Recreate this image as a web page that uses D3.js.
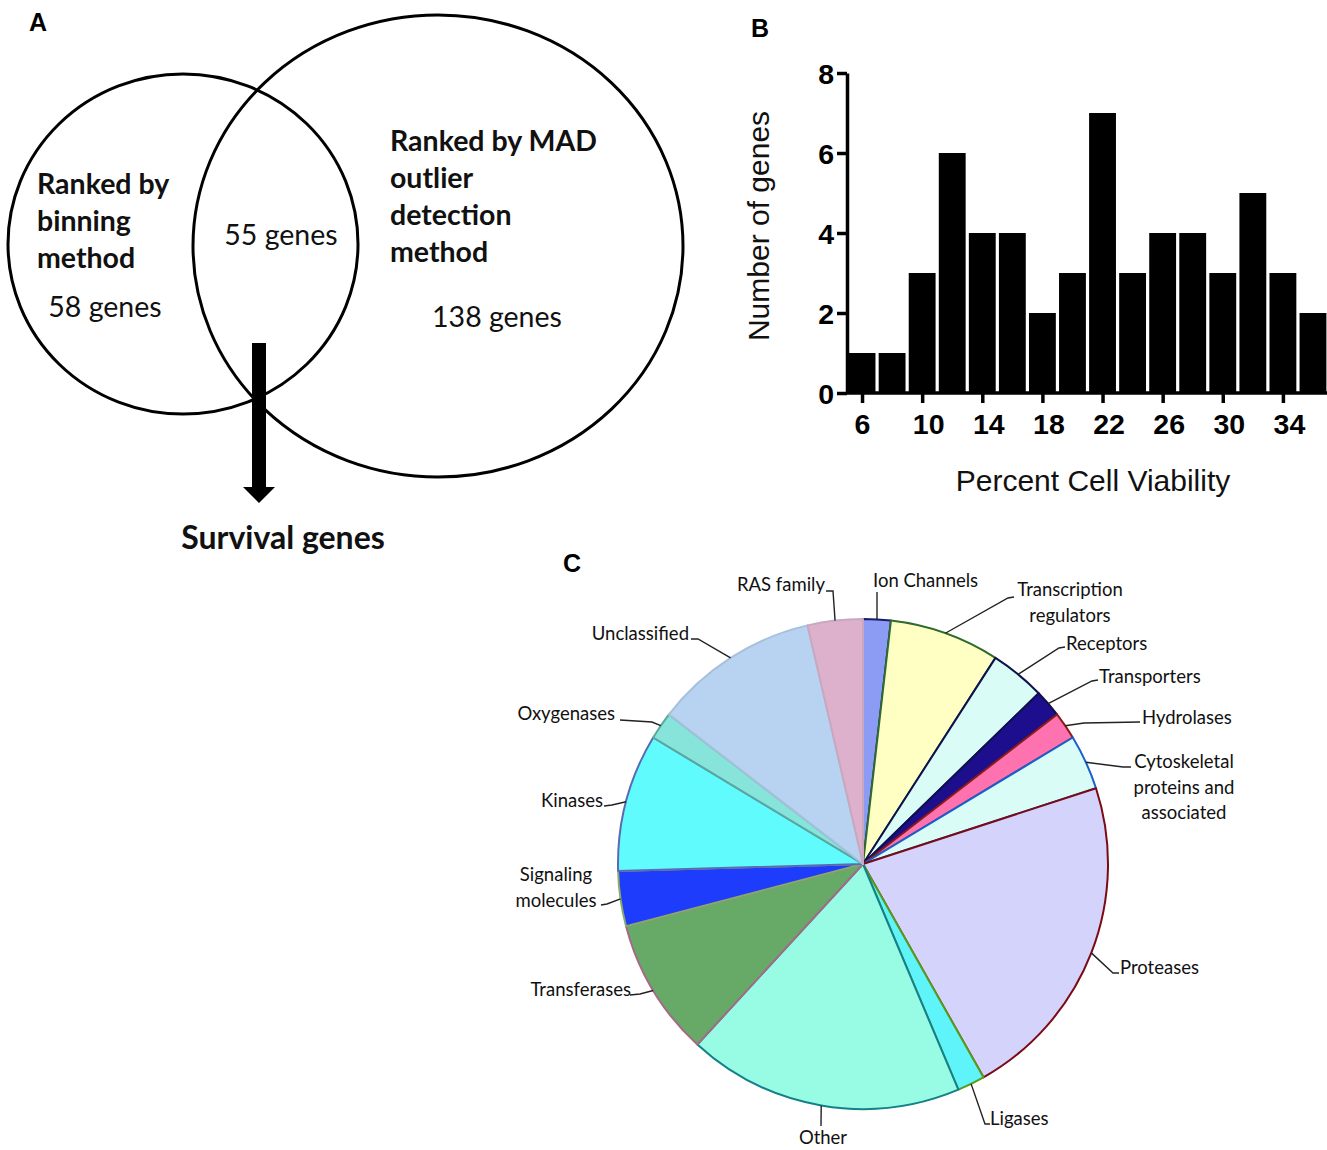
<!DOCTYPE html>
<html>
<head>
<meta charset="utf-8">
<script src="https://cdn.jsdelivr.net/npm/d3@7"></script>
<style>
  html, body { margin: 0; padding: 0; background: #fff; }
  svg { display: block; }
  .cal { font-family: Lato, "Open Sans", sans-serif; }
  .ari { font-family: "Liberation Sans", Arial, sans-serif; }
</style>
</head>
<body>
<div id="chart"></div>
<script>
// ---------------- DATA ----------------
// Panel A: Venn counts
const vennSets = ["Ranked by binning method", "Ranked by MAD outlier detection method"];
const vennCounts = [58, 55, 138]; // only left, overlap, only right

// Panel B: histogram
const viabilityBins = [6, 8, 10, 12, 14, 16, 18, 20, 22, 24, 26, 28, 30, 32, 34, 36];
const geneCounts = [1, 1, 3, 6, 4, 4, 2, 3, 7, 3, 4, 4, 3, 5, 3, 2];
const xTickValues = [6, 10, 14, 18, 22, 26, 30, 34];
const yTickValues = [0, 2, 4, 6, 8];

// Panel C: pie (clockwise from 12 o'clock)
const pieCategories = ["Ion Channels", "Transcription regulators", "Receptors", "Transporters",
  "Hydrolases", "Cytoskeletal proteins and associated", "Proteases", "Ligases", "Other",
  "Transferases", "Signaling molecules", "Kinases", "Oxygenases", "Unclassified", "RAS family"];
const pieValues = [1, 4, 2, 1, 1, 2, 12, 1, 10, 5, 2, 5, 1, 6, 2];
const pieFills = ["#8c9cf4", "#ffffc4", "#d9fdf6", "#1c0e8c", "#ff72b0", "#d9fdf6", "#d3d3fb",
  "#5ff4fa", "#98fbe4", "#67aa67", "#1d3cfb", "#60fcfd", "#86e4da", "#b8d3f1", "#ddb0cc"];
const pieStrokes = ["#1a1a6e", "#2e6b2e", "#101050", "#101050", "#8b1a1a", "#1a5fd0", "#7a0a14",
  "#5a9a1a", "#14808a", "#a46a86", "#8aa86a", "#5a6ab4", "#5aa8a0", "#a8c0dc", "#c8a8c0"];

// ---------------- LAYOUT ----------------
const W = 1327, H = 1150;
const svg = d3.select("#chart").append("svg").attr("width", W).attr("height", H);
svg.append("rect").attr("width", W).attr("height", H).attr("fill", "#fff");

// Panel letters
const letters = [["A", 38, 31], ["B", 760, 37], ["C", 572, 572]];
svg.selectAll("text.letter").data(letters).join("text")
  .attr("class", "ari letter").attr("x", d => d[1]).attr("y", d => d[2])
  .attr("text-anchor", "middle").attr("font-size", 25).attr("font-weight", "bold")
  .text(d => d[0]);

// ---------------- PANEL A ----------------
const gA = svg.append("g");
gA.append("ellipse").attr("cx", 183).attr("cy", 244).attr("rx", 175).attr("ry", 170)
  .attr("fill", "none").attr("stroke", "#000").attr("stroke-width", 3);
gA.append("ellipse").attr("cx", 438).attr("cy", 246).attr("rx", 245).attr("ry", 231)
  .attr("fill", "none").attr("stroke", "#000").attr("stroke-width", 3);

function multiline(g, lines, x, y, lh, opts) {
  const t = g.append("text").attr("class", "cal").attr("x", x).attr("y", y)
    .attr("font-size", opts.size).attr("font-weight", opts.weight || "normal")
    .attr("text-anchor", opts.anchor || "start").attr("fill", "#111");
  lines.forEach((l, i) => t.append("tspan").attr("x", x).attr("dy", i === 0 ? 0 : lh).text(l));
  return t;
}
multiline(gA, ["Ranked by", "binning", "method"], 37, 194, 37, { size: 28.5, weight: "bold" });
multiline(gA, ["Ranked by MAD", "outlier", "detection", "method"], 390, 151, 37, { size: 28.5, weight: "bold" });
multiline(gA, [vennCounts[0] + " genes"], 105, 317, 0, { size: 28.5, anchor: "middle" });
multiline(gA, [vennCounts[1] + " genes"], 281, 245, 0, { size: 28.5, anchor: "middle" });
multiline(gA, [vennCounts[2] + " genes"], 497, 327, 0, { size: 28.5, anchor: "middle" });

// arrow
gA.append("rect").attr("x", 252).attr("y", 343).attr("width", 14).attr("height", 146).attr("fill", "#000");
gA.append("path").attr("d", "M243,487 L275,487 L259,503 Z").attr("fill", "#000");
multiline(gA, ["Survival genes"], 283, 549, 0, { size: 32, weight: "bold", anchor: "middle" });

// ---------------- PANEL B ----------------
const gB = svg.append("g");
const x = d3.scaleLinear().domain([5, 37]).range([847, 1328]);
const y = d3.scaleLinear().domain([0, 8]).range([393, 73]);

gB.selectAll("rect.bar").data(viabilityBins).join("rect")
  .attr("class", "bar")
  .attr("x", (d) => x(d - 1) + 1.6)
  .attr("width", (d) => x(d + 1) - x(d - 1) - 3.2)
  .attr("y", (d, i) => y(geneCounts[i]))
  .attr("height", (d, i) => y(0) - y(geneCounts[i]))
  .attr("fill", "#000");

const xAxis = gB.append("g").attr("transform", `translate(0,${y(0)})`)
  .call(d3.axisBottom(x).tickValues(xTickValues).tickSize(10).tickPadding(5).tickSizeOuter(0));
const yAxis = gB.append("g").attr("transform", `translate(${x(5)},0)`)
  .call(d3.axisLeft(y).tickValues(yTickValues).tickSize(10).tickPadding(3).tickSizeOuter(0));
[xAxis, yAxis].forEach(a => {
  a.select(".domain").attr("stroke-width", 3.5).attr("stroke", "#000");
  a.selectAll(".tick line").attr("stroke-width", 3.5).attr("stroke", "#000");
  a.selectAll(".tick text").attr("class", "ari").attr("font-size", 28.5)
    .attr("font-weight", "bold").attr("fill", "#000");
});
xAxis.select(".domain").attr("d", `M${x(5)},0H${W}`);
yAxis.selectAll(".tick text").attr("dy", "0.36em");
xAxis.selectAll(".tick text").attr("dy", "0.9em").attr("dx", d => d >= 10 ? 6 : 0);

gB.append("text").attr("class", "ari").attr("x", 1093).attr("y", 491)
  .attr("text-anchor", "middle").attr("font-size", 30).attr("fill", "#111")
  .text("Percent Cell Viability");
gB.append("text").attr("class", "ari")
  .attr("transform", `translate(769,226) rotate(-90)`)
  .attr("text-anchor", "middle").attr("font-size", 30).attr("fill", "#111")
  .text("Number of genes");

// ---------------- PANEL C ----------------
const cx = 863, cy = 864, R = 245;
const gC = svg.append("g").attr("transform", `translate(${cx},${cy})`);
const pie = d3.pie().sort(null).value(d => d)(pieValues);
const arc = d3.arc().innerRadius(0).outerRadius(R);
gC.selectAll("path.slice").data(pie).join("path")
  .attr("class", "slice")
  .attr("d", arc)
  .attr("fill", (d, i) => pieFills[i])
  .attr("stroke", (d, i) => pieStrokes[i])
  .attr("stroke-width", 2)
  .attr("stroke-linejoin", "round");

// label layout: text lines, anchor x, first baseline y, anchor, hook points (near text)
const labelLayout = [
  { lines: ["Ion Channels"], x: 873, y: 587, a: "start", hook: [[877, 592]] },
  { lines: ["Transcription", "regulators"], x: 1070, y: 596, a: "middle", hook: [[1014, 597], [1008, 598]] },
  { lines: ["Receptors"], x: 1066, y: 650, a: "start", hook: [[1065, 647], [1059, 648]] },
  { lines: ["Transporters"], x: 1099, y: 683, a: "start", hook: [[1098, 680], [1092, 681]] },
  { lines: ["Hydrolases"], x: 1142, y: 724, a: "start", hook: [[1140, 722], [1084, 723]] },
  { lines: ["Cytoskeletal", "proteins and", "associated"], x: 1184, y: 768, a: "middle", hook: [[1131, 767], [1123, 767]] },
  { lines: ["Proteases"], x: 1120, y: 974, a: "start", hook: [[1119, 973], [1113, 973]] },
  { lines: ["Ligases"], x: 990, y: 1125, a: "start", hook: [[990, 1124], [985, 1124]] },
  { lines: ["Other"], x: 823, y: 1144, a: "middle", hook: [[821, 1126]] },
  { lines: ["Transferases"], x: 631, y: 996, a: "end", hook: [[630, 995], [640, 994]] },
  { lines: ["Signaling", "molecules"], x: 556, y: 881, a: "middle", hook: [[601, 905], [607, 904]] },
  { lines: ["Kinases"], x: 603, y: 807, a: "end", hook: [[604, 806], [612, 805]] },
  { lines: ["Oxygenases"], x: 615, y: 720, a: "end", hook: [[620, 720], [652, 722]] },
  { lines: ["Unclassified"], x: 689, y: 640, a: "end", hook: [[691, 639], [698, 639]] },
  { lines: ["RAS family"], x: 825, y: 591, a: "end", hook: [[826, 591], [833, 591]] }
];

const gL = svg.append("g");
pie.forEach((d, i) => {
  const L = labelLayout[i];
  const mid = (d.startAngle + d.endAngle) / 2;
  const edge = [cx + R * Math.sin(mid), cy - R * Math.cos(mid)];
  const pts = L.hook.concat([edge]);
  gL.append("path").attr("d", d3.line()(pts)).attr("fill", "none")
    .attr("stroke", "#222").attr("stroke-width", 1.4);
  const t = gL.append("text").attr("class", "cal").attr("x", L.x).attr("y", L.y)
    .attr("font-size", 18.5).attr("text-anchor", L.a).attr("fill", "#111");
  L.lines.forEach((l, j) => t.append("tspan").attr("x", L.x).attr("dy", j === 0 ? 0 : 25.5).text(l));
});
</script>
</body>
</html>
